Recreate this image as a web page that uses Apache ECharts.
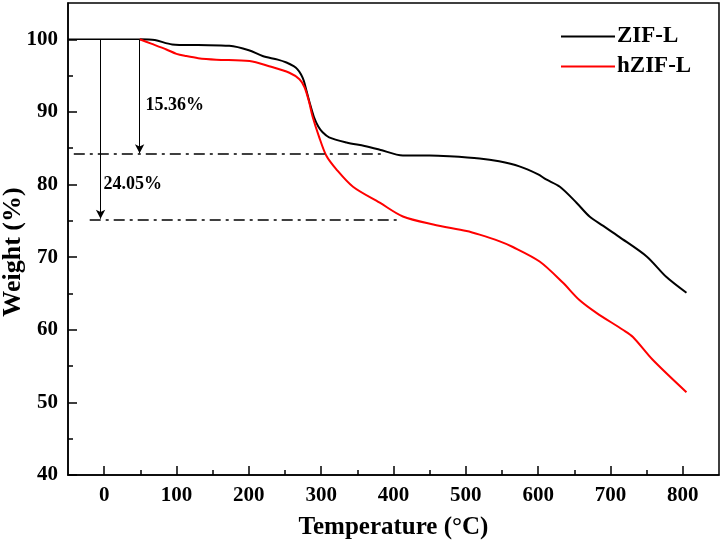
<!DOCTYPE html>
<html>
<head>
<meta charset="utf-8">
<script src="https://cdn.jsdelivr.net/npm/echarts@6/dist/echarts.min.js"></script>
<style>html,body{margin:0;padding:0;background:#fff}#c{width:723px;height:542px}</style>
</head>
<body>
<div id="c"></div>
<script>
// ---- data ----
var zifTemp   = [49, 70, 94, 130, 173, 200, 219, 240, 252, 262, 267, 272, 276, 280, 284, 290, 296, 302, 311, 335, 360, 381, 413, 450, 477, 519, 546, 574, 600, 611, 630, 653, 671, 690, 712, 750, 777, 805];
var zifWeight = [100, 99.9, 99.3, 99.2, 99.1, 98.5, 97.7, 97.2, 96.8, 96.3, 95.9, 95.2, 94.3, 92.8, 91.3, 89.3, 88.0, 87.2, 86.5, 85.8, 85.3, 84.8, 84.0, 84.0, 83.9, 83.6, 83.2, 82.5, 81.4, 80.7, 79.7, 77.5, 75.6, 74.3, 72.8, 70.1, 67.3, 65.1];
var hzifTemp   = [49, 65, 86, 100, 113, 130, 155, 201, 228, 256, 270, 277, 283, 288, 297, 307, 321, 344, 381, 413, 455, 501, 519, 546, 565, 602, 634, 657, 681, 717, 731, 758, 805];
var hzifWeight = [100, 99.4, 98.6, 98.0, 97.7, 97.4, 97.2, 97.0, 96.3, 95.4, 94.5, 93.4, 91.5, 89.4, 86.6, 84.0, 82.1, 79.7, 77.5, 75.6, 74.5, 73.6, 73.1, 72.2, 71.4, 69.4, 66.5, 64.1, 62.3, 60.0, 59.0, 55.9, 51.4];
var seriesNames = ['ZIF-L', 'hZIF-L'];
var xMajorTicks = [0, 100, 200, 300, 400, 500, 600, 700, 800];
var xMinorTicks = [50, 150, 250, 350, 450, 550, 650, 750];
var yMajorTicks = [40, 50, 60, 70, 80, 90, 100];
var yMinorTicks = [45, 55, 65, 75, 85, 95];
// annotations: baseline, arrows, dash-dot levels, labels
var baseLine = [[-50, 100], [49, 100]];
var arrow1 = [[49, 100], [49, 84.3]];
var arrow2 = [[-5, 100], [-5, 75.3]];
var level1 = [[-42, 84.3], [388, 84.3]];
var level2 = [[-20, 75.2], [405, 75.2]];
var loss1Label = ['15.36%', 57, 90.9];
var loss2Label = ['24.05%', -1, 80.0];

var FONT = '"Liberation Serif", "Times New Roman", serif';
function pairs(xs, ys) { return xs.map(function (x, i) { return [x, ys[i]]; }); }
function seg(p) { return [{ coord: p[0] }, { coord: p[1] }]; }

var tickStyle = { color: '#000', width: 1.5 };
var chart = echarts.init(document.getElementById('c'));
chart.setOption({
  animation: false,
  backgroundColor: '#fff',
  grid: { left: 68, right: 4, top: 3, bottom: 67, containLabel: false, outerBoundsMode: 'none',
          show: true, borderColor: '#000', borderWidth: 1.5, backgroundColor: 'transparent' },
  legend: {
    orient: 'vertical', left: 556, top: 20, itemWidth: 54, itemHeight: 2, itemGap: 7,
    icon: 'rect',
    data: seriesNames,
    textStyle: { fontFamily: FONT, fontWeight: 'bold', fontSize: 23, color: '#000', padding: [0, 0, 0, -3] }
  },
  xAxis: [{
    type: 'value', min: -50, max: 850,
    name: 'Temperature (\u00B0C)', nameLocation: 'middle', nameGap: 40, nameMoveOverlap: false,
    nameTextStyle: { fontFamily: FONT, fontWeight: 'bold', fontSize: 25, color: '#000' },
    axisLine: { show: true, onZero: false, lineStyle: tickStyle },
    axisTick: { show: true, inside: true, length: 9, lineStyle: tickStyle, customValues: xMajorTicks },
    axisLabel: { fontFamily: FONT, fontWeight: 'bold', fontSize: 21, color: '#000', margin: 10, customValues: xMajorTicks },
    splitLine: { show: false }
  }, {
    type: 'value', min: -50, max: 850, position: 'bottom',
    axisLine: { show: false, onZero: false },
    axisTick: { show: true, inside: true, length: 5, lineStyle: tickStyle, customValues: xMinorTicks },
    axisLabel: { show: false }, splitLine: { show: false }
  }],
  yAxis: [{
    type: 'value', min: 40, max: 105,
    name: 'Weight (%)', nameLocation: 'middle', nameGap: 42, nameMoveOverlap: false,
    nameTextStyle: { fontFamily: FONT, fontWeight: 'bold', fontSize: 26, color: '#000', padding: [0, 26, 0, 0] },
    axisLine: { show: true, onZero: false, lineStyle: tickStyle },
    axisTick: { show: true, inside: true, length: 9, lineStyle: tickStyle, customValues: yMajorTicks },
    axisLabel: { fontFamily: FONT, fontWeight: 'bold', fontSize: 21, color: '#000', margin: 10, customValues: yMajorTicks },
    splitLine: { show: false }
  }, {
    type: 'value', min: 40, max: 105, position: 'left',
    axisLine: { show: false, onZero: false },
    axisTick: { show: true, inside: true, length: 5, lineStyle: tickStyle, customValues: yMinorTicks },
    axisLabel: { show: false }, splitLine: { show: false }
  }],
  series: [{
    name: seriesNames[0], type: 'line', symbol: 'none', smooth: 0.3,
    data: pairs(zifTemp, zifWeight),
    lineStyle: { color: '#000', width: 2 }, itemStyle: { color: '#000' }, z: 3
  }, {
    name: seriesNames[1], type: 'line', symbol: 'none', smooth: 0.3,
    data: pairs(hzifTemp, hzifWeight),
    lineStyle: { color: '#ff0000', width: 2 }, itemStyle: { color: '#ff0000' }, z: 4
  }, {
    name: 'base', type: 'line', symbol: 'none', data: baseLine,
    lineStyle: { color: '#000', width: 1.5 }, z: 2,
    markLine: {
      silent: true, symbol: ['none', 'arrow'], symbolSize: [7, 9],
      label: { show: false },
      lineStyle: { color: '#000', width: 1, type: 'solid' },
      data: [seg(arrow1), seg(arrow2)]
    }
  }, {
    name: 'levels', type: 'line', symbol: 'none', data: [],
    markLine: {
      silent: true, symbol: ['none', 'none'],
      label: { show: false },
      lineStyle: { color: '#000', width: 1.5, type: [11, 5, 3, 5] },
      data: [seg(level1), seg(level2)]
    }
  }, {
    name: 'labels', type: 'scatter', symbolSize: 0, silent: true,
    itemStyle: { opacity: 1 },
    data: [[loss1Label[1], loss1Label[2], loss1Label[0]], [loss2Label[1], loss2Label[2], loss2Label[0]]],
    label: {
      show: true, position: 'right', distance: 0,
      formatter: function (p) { return p.value[2]; },
      fontFamily: FONT, fontWeight: 'bold', fontSize: 18, color: '#000', opacity: 1
    }
  }]
});
</script>
</body>
</html>
